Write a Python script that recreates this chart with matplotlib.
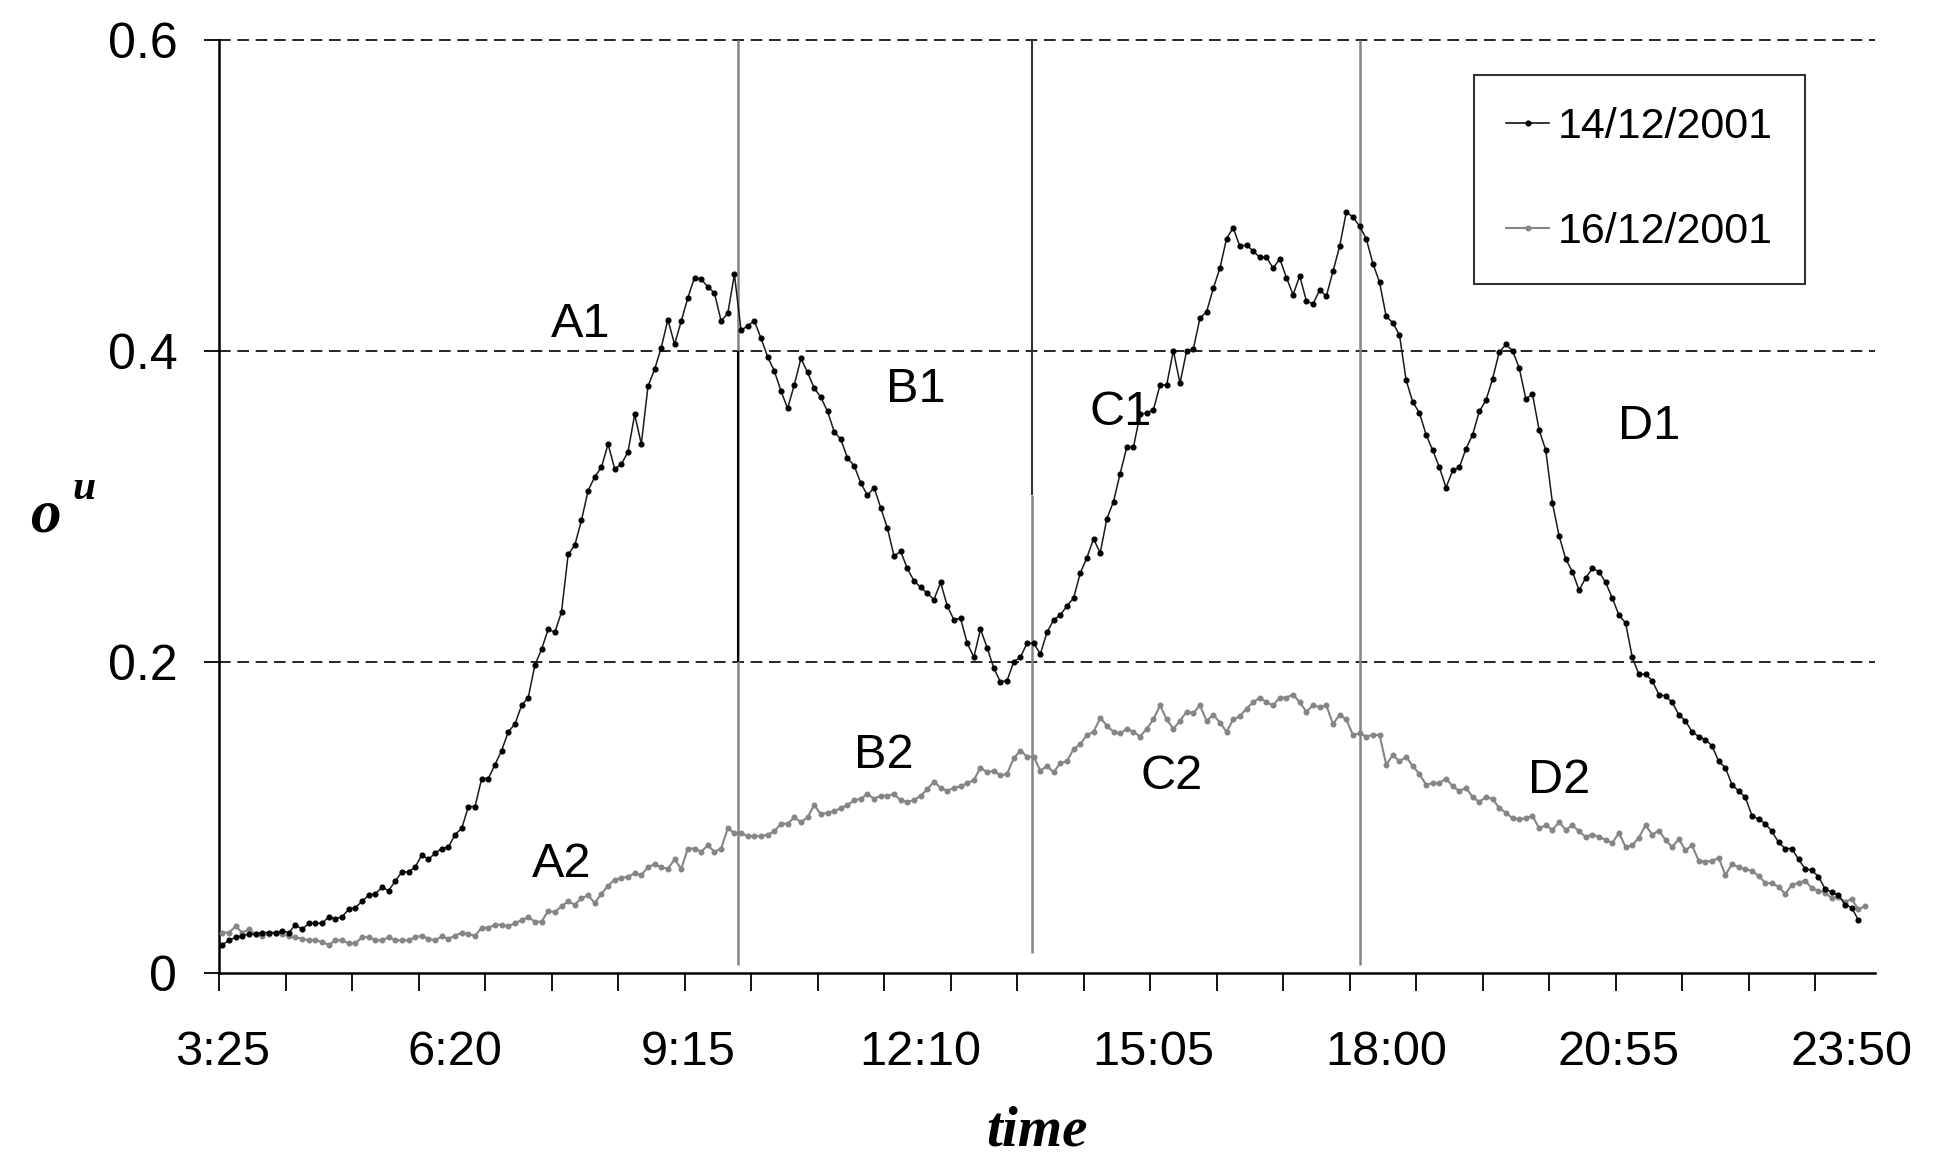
import matplotlib
matplotlib.use("Agg")
import matplotlib.pyplot as plt
from matplotlib.lines import Line2D

# ---------------- data (5-minute samples starting 3:25) ----------------
series1_label = "14/12/2001"
series2_label = "16/12/2001"

series1 = [
    0.018, 0.021, 0.023, 0.024, 0.025, 0.025, 0.026, 0.026, 0.026, 0.027,
    0.026, 0.031, 0.028, 0.032, 0.032, 0.032, 0.036, 0.035, 0.036, 0.041,
    0.042, 0.046, 0.050, 0.051, 0.055, 0.053, 0.059, 0.065, 0.065, 0.068,
    0.076, 0.073, 0.077, 0.080, 0.081, 0.089, 0.093, 0.107, 0.107, 0.125,
    0.125, 0.134, 0.143, 0.155, 0.160, 0.172, 0.177, 0.198, 0.208, 0.221,
    0.219, 0.232, 0.269, 0.275, 0.291, 0.310, 0.319, 0.325, 0.340, 0.324,
    0.327, 0.335, 0.359, 0.340, 0.377, 0.388, 0.402, 0.420, 0.404, 0.419,
    0.434, 0.447, 0.446, 0.441, 0.437, 0.419, 0.424, 0.449, 0.413, 0.416,
    0.419, 0.408, 0.396, 0.387, 0.374, 0.363, 0.378, 0.395, 0.386, 0.376,
    0.370, 0.361, 0.348, 0.343, 0.331, 0.326, 0.315, 0.307, 0.312, 0.299,
    0.286, 0.268, 0.271, 0.260, 0.252, 0.248, 0.244, 0.240, 0.251, 0.236,
    0.227, 0.228, 0.212, 0.203, 0.221, 0.209, 0.196, 0.187, 0.188, 0.200,
    0.203, 0.212, 0.212, 0.205, 0.219, 0.227, 0.230, 0.236, 0.241, 0.257,
    0.267, 0.279, 0.270, 0.292, 0.303, 0.321, 0.338, 0.338, 0.359, 0.360,
    0.362, 0.378, 0.378, 0.400, 0.379, 0.400, 0.401, 0.421, 0.425, 0.440,
    0.453, 0.472, 0.479, 0.467, 0.468, 0.464, 0.460, 0.460, 0.453, 0.459,
    0.447, 0.436, 0.448, 0.432, 0.430, 0.439, 0.435, 0.451, 0.467, 0.489,
    0.486, 0.480, 0.472, 0.456, 0.444, 0.422, 0.418, 0.410, 0.381, 0.367,
    0.360, 0.346, 0.336, 0.325, 0.312, 0.323, 0.325, 0.337, 0.346, 0.361,
    0.368, 0.382, 0.399, 0.404, 0.400, 0.389, 0.369, 0.372, 0.349, 0.336,
    0.302, 0.281, 0.266, 0.258, 0.246, 0.254, 0.260, 0.258, 0.251, 0.241,
    0.230, 0.225, 0.203, 0.192, 0.192, 0.188, 0.179, 0.178, 0.174, 0.166,
    0.162, 0.155, 0.152, 0.150, 0.146, 0.136, 0.132, 0.121, 0.117, 0.113,
    0.101, 0.099, 0.096, 0.091, 0.084, 0.080, 0.080, 0.073, 0.067, 0.066,
    0.062, 0.054, 0.052, 0.050, 0.044, 0.042, 0.034,
]

series2 = [
    0.026, 0.026, 0.030, 0.026, 0.028, 0.025, 0.024, 0.025, 0.026, 0.025,
    0.0235, 0.023, 0.022, 0.021, 0.021, 0.020, 0.018, 0.021, 0.021, 0.019,
    0.019, 0.023, 0.023, 0.021, 0.021, 0.023, 0.021, 0.021, 0.021, 0.023,
    0.024, 0.022, 0.021, 0.0235, 0.022, 0.024, 0.026, 0.025, 0.024, 0.029,
    0.029, 0.031, 0.031, 0.030, 0.032, 0.034, 0.036, 0.033, 0.033, 0.040,
    0.039, 0.043, 0.046, 0.044, 0.048, 0.050, 0.045, 0.051, 0.056, 0.060,
    0.061, 0.062, 0.064, 0.063, 0.068, 0.070, 0.068, 0.067, 0.073, 0.067,
    0.080, 0.080, 0.078, 0.082, 0.078, 0.080, 0.093, 0.090, 0.090, 0.088,
    0.088, 0.088, 0.089, 0.091, 0.096, 0.096, 0.100, 0.097, 0.100, 0.108,
    0.102, 0.103, 0.104, 0.106, 0.108, 0.111, 0.112, 0.115, 0.112, 0.114,
    0.114, 0.115, 0.111, 0.110, 0.111, 0.114, 0.118, 0.123, 0.119, 0.117,
    0.119, 0.120, 0.122, 0.124, 0.132, 0.129, 0.130, 0.127, 0.128, 0.138,
    0.143, 0.139, 0.139, 0.130, 0.133, 0.129, 0.135, 0.136, 0.144, 0.147,
    0.153, 0.155, 0.164, 0.159, 0.155, 0.154, 0.157, 0.155, 0.152, 0.157,
    0.163, 0.172, 0.163, 0.157, 0.162, 0.168, 0.167, 0.172, 0.162, 0.166,
    0.161, 0.155, 0.163, 0.165, 0.170, 0.174, 0.177, 0.174, 0.172, 0.177,
    0.177, 0.179, 0.174, 0.168, 0.172, 0.171, 0.172, 0.160, 0.166, 0.163,
    0.153, 0.154, 0.152, 0.153, 0.153, 0.134, 0.140, 0.136, 0.139, 0.133,
    0.128, 0.121, 0.122, 0.122, 0.125, 0.120, 0.117, 0.119, 0.113, 0.110,
    0.113, 0.112, 0.106, 0.103, 0.0995, 0.0987, 0.0995, 0.101, 0.093, 0.095,
    0.092, 0.097, 0.092, 0.095, 0.091, 0.0875, 0.089, 0.0875, 0.0856, 0.0836,
    0.090, 0.081, 0.082, 0.087, 0.095, 0.089, 0.0915, 0.0855, 0.081, 0.086,
    0.079, 0.082, 0.072, 0.0716, 0.072, 0.074, 0.063, 0.070, 0.068, 0.0666,
    0.0658, 0.0624, 0.058, 0.0576, 0.0555, 0.0508, 0.0566, 0.058, 0.0594, 0.0544,
    0.053, 0.0516, 0.048, 0.0486, 0.0459, 0.0474, 0.041, 0.043,
]

x_tick_labels = ["3:25", "6:20", "9:15", "12:10", "15:05", "18:00", "20:55", "23:50"]
label_every = 35          # categories between labels (175 min)
tick_every = 10           # categories between tick marks
n_categories = 249

# period separators (category positions)
separators = [77.5, 121.7, 171.0]

# region annotations: (text, category position, value)
region_labels = [
    ("A1", 53.9, 0.417), ("B1", 104.3, 0.375), ("C1", 135.0, 0.360), ("D1", 214.6, 0.351),
    ("A2", 51.0, 0.070), ("B2", 99.5, 0.140), ("C2", 142.8, 0.126), ("D2", 201.0, 0.124),
]

# ---------------- figure ----------------
W, H, DPI = 1934, 1158, 100
fig = plt.figure(figsize=(W / DPI, H / DPI), dpi=DPI)
ax = fig.add_axes([219 / W, 1 - 973 / H, 1656 / W, 933.5 / H])

SANS = ["Liberation Sans", "DejaVu Sans"]
SERIF = ["Liberation Serif", "DejaVu Serif"]
GRAY = "#858585"

# gridlines (dashed)
for yv in [0.2, 0.4, 0.6]:
    ax.axhline(yv, color="black", lw=1.2, ls=(0, (7, 4)), zorder=1, clip_on=False)

# separators
ax.vlines(separators[0], 0.005, 0.6, color=GRAY, lw=1.8, zorder=2)
ax.vlines(separators[0], 0.200, 0.40, color="black", lw=1.5, zorder=2.1)
ax.vlines(separators[1], 0.013, 0.307, color=GRAY, lw=1.8, zorder=2)
ax.vlines(separators[1], 0.307, 0.6, color="#333333", lw=1.5, zorder=2.1)
ax.vlines(separators[2], 0.005, 0.6, color=GRAY, lw=1.8, zorder=2)

x1 = list(range(len(series1)))
x2 = list(range(len(series2)))
ax.plot(x2, series2, color=GRAY, lw=1.5, marker="o", ms=3.3, mfc=GRAY, mec=GRAY,
        zorder=3, label=series2_label)
ax.plot(x1, series1, color="#1a1a1a", lw=1.1, marker="o", ms=3.4, mfc="black", mec="black",
        zorder=4, label=series1_label)

ax.set_xlim(-0.5, n_categories - 0.5)
ax.set_ylim(0, 0.6)

# spines
for s in ["top", "right"]:
    ax.spines[s].set_visible(False)
for s in ["left", "bottom"]:
    ax.spines[s].set_linewidth(1.8)
    ax.spines[s].set_color("black")

# y ticks
ax.set_yticks([0, 0.2, 0.4, 0.6])
ax.set_yticklabels(["0", "0.2", "0.4", "0.6"])
ax.tick_params(axis="y", direction="out", length=11, width=1.3, pad=19,
               labelsize=36)

# x ticks: tick marks every 10 categories, labels every 35 categories
tick_pos = [-0.5 + tick_every * k for k in range(25)]
ax.set_xticks(tick_pos)
ax.set_xticklabels([""] * len(tick_pos))
ax.tick_params(axis="x", which="major", direction="out", length=13, width=1.3)
lab_pos = [label_every * k for k in range(len(x_tick_labels))]
ax.set_xticks(lab_pos, minor=True)
ax.set_xticklabels(x_tick_labels, minor=True)
ax.tick_params(axis="x", which="minor", length=0, pad=41, labelsize=35)

for lab in ax.get_xticklabels(minor=True) + ax.get_yticklabels():
    lab.set_fontfamily(SANS)

# region labels
for txt, xc, yc in region_labels:
    ax.text(xc, yc, txt, ha="center", va="center", fontsize=35, family=SANS, zorder=5)

# legend
handles = [
    Line2D([], [], color="black", lw=1.1, marker="o", ms=3.4),
    Line2D([], [], color=GRAY, lw=1.5, marker="o", ms=3.3),
]
leg = ax.legend(handles, [series1_label, series2_label], loc="upper left",
                bbox_to_anchor=(0.758, 0.962), borderaxespad=0,
                prop={"family": SANS, "size": 31}, frameon=True, fancybox=False,
                handlelength=1.0, handletextpad=0.2, labelspacing=1.52,
                borderpad=0.74)
leg.get_frame().set_edgecolor("black")
leg.get_frame().set_linewidth(1.5)

# axis titles
fig.text(45 / W, 1 - 516 / H, "o", fontsize=44, family=SERIF, fontweight="bold",
         fontstyle="italic", ha="center", va="center")
fig.text(84 / W, 1 - 489 / H, "u", fontsize=30, family=SERIF, fontweight="bold",
         fontstyle="italic", ha="center", va="center")
fig.text(1037 / W, 1 - 1131 / H, "time", fontsize=41, family=SERIF, fontweight="bold",
         fontstyle="italic", ha="center", va="center")

fig.savefig("out.png", dpi=DPI, facecolor="white")
